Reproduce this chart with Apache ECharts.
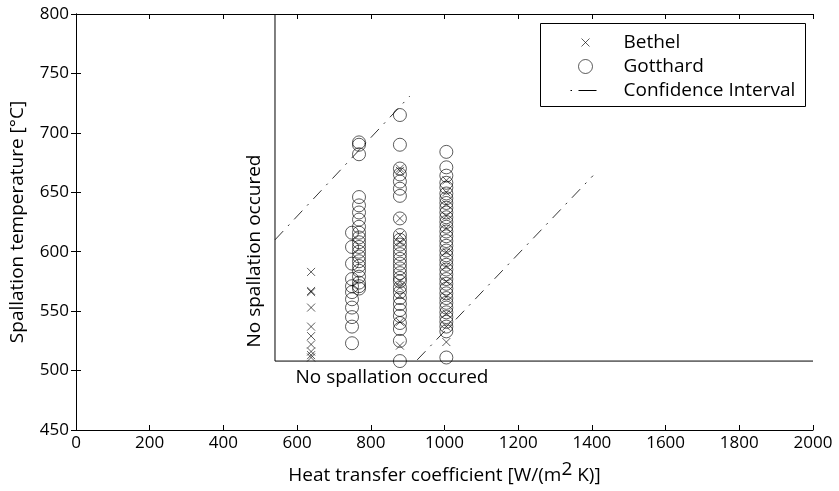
<!DOCTYPE html>
<html>
<head>
<meta charset="utf-8">
<script src="https://cdn.jsdelivr.net/npm/echarts@6/dist/echarts.min.js"></script>
<style>
  html, body { margin: 0; padding: 0; background: #fff; }
  #chart { width: 839px; height: 491px; }
</style>
</head>
<body>
<div id="chart"></div>
<script>
// Axis ranges and ticks
const xTicks = [0, 200, 400, 600, 800, 1000, 1200, 1400, 1600, 1800, 2000];
const yTicks = [450, 500, 550, 600, 650, 700, 750, 800];

// Heat transfer coefficients of the test groups [W/(m^2 K)]
const bethelXs = [638, 879, 1005];
const gotthardXs = [749, 768, 879, 1005];

// Spallation temperatures [°C], Bethel tests
const bethel638 = [583, 567, 566, 553, 537, 529, 522, 516, 513, 511];
const bethel879 = [670, 668, 628, 614, 608, 575, 570, 563, 541, 521];
const bethel1005 = [660, 650, 640, 630, 620, 600, 588, 575, 562, 548, 537, 524];

// Spallation temperatures [°C], Gotthard tests
const gotthard749 = [616, 604, 590, 577, 571, 566, 560, 553, 545, 537, 523];
const gotthard768 = [692, 690, 682, 646, 639, 633, 627, 621, 616, 612, 608, 604, 600, 596, 592, 588, 584, 579, 574, 571, 569];
const gotthard879 = [715, 690, 670, 665, 659, 653, 647, 628, 614, 610, 606, 602, 598, 594, 590, 586, 582, 578, 575, 570, 566, 561, 556, 551, 546, 540, 535, 525, 508];
const gotthard1005 = [684, 671, 664, 658, 654, 649, 645, 641, 637, 633, 629, 625, 621, 617, 613, 609, 605, 601, 597, 593, 589, 585, 581, 577, 573, 569, 565, 561, 557, 553, 549, 545, 541, 537, 533, 511];

// Confidence interval bounds: [x, y] end points
const ciUpperX = [540, 906];
const ciUpperY = [610, 731];
const ciLowerX = [926, 1403];
const ciLowerY = [509, 664];

// Region without spallation: lower-left corner of the valid area
const limitX = 540;
const limitY = 508;

const FONT = '"Open Sans", "Noto Sans", sans-serif';
const TEXT_SIZE = 19;
const TICK_SIZE = 17;

function pairs(x, ys) { return ys.map(y => [x, y]); }

const bethelData = [].concat(
  pairs(bethelXs[0], bethel638),
  pairs(bethelXs[1], bethel879),
  pairs(bethelXs[2], bethel1005)
);
const gotthardData = [].concat(
  pairs(gotthardXs[0], gotthard749),
  pairs(gotthardXs[1], gotthard768),
  pairs(gotthardXs[2], gotthard879),
  pairs(gotthardXs[3], gotthard1005)
);

const xMin = xTicks[0], xMax = xTicks[xTicks.length - 1];
const yMin = yTicks[0], yMax = yTicks[yTicks.length - 1];

const chart = echarts.init(document.getElementById('chart'), null, { renderer: 'canvas' });

const tickStyle = { show: true, inside: true, length: 5, lineStyle: { color: '#000', width: 1 } };
const axisLineStyle = { show: true, lineStyle: { color: '#000', width: 1 } };
const labelStyle = { color: '#000', fontFamily: FONT, fontSize: TICK_SIZE, formatter: v => String(v) };

const ciStyle = { color: '#000', width: 0.8, type: [12, 7, 2, 7] };
const markerStyle = { color: 'rgba(0,0,0,0)', borderColor: '#000', borderWidth: 0.8 };

// Legend icons; the leading moveTo commands fix the icon's bounding box
const crossIcon = 'path://M0,0M30,14M11,3L19,11M19,3L11,11';
const dashDotIcon = 'path://M0,0M30,14M0,7L1.5,7M8,7L26,7';

chart.setOption({
  animation: false,
  backgroundColor: '#fff',
  grid: { left: 76, right: 26, top: 14, bottom: 61, containLabel: false, outerBoundsMode: 'none' },
  xAxis: [{
    type: 'value', min: xMin, max: xMax, interval: 200,
    axisLine: axisLineStyle, axisTick: tickStyle, splitLine: { show: false },
    axisLabel: Object.assign({ margin: 5 }, labelStyle),
    name: 'Heat transfer coefficient [W/(m{sup|2} K)]',
    nameLocation: 'middle', nameGap: 30,
    nameTextStyle: {
      color: '#000', fontFamily: FONT, fontSize: TEXT_SIZE,
      rich: { sup: { fontFamily: FONT, fontSize: TEXT_SIZE, verticalAlign: 'bottom', padding: [0, 0, 13, 0], color: '#000' } }
    }
  }, {
    type: 'value', position: 'top', min: xMin, max: xMax, interval: 200,
    axisLine: axisLineStyle, axisTick: tickStyle, axisLabel: { show: false }, splitLine: { show: false }
  }],
  yAxis: [{
    type: 'value', min: yMin, max: yMax, interval: 50,
    axisLine: axisLineStyle, axisTick: tickStyle, splitLine: { show: false },
    axisLabel: Object.assign({ margin: 7 }, labelStyle),
    name: 'Spallation temperature [°C]',
    nameLocation: 'middle', nameGap: 49,
    nameTextStyle: { color: '#000', fontFamily: FONT, fontSize: TEXT_SIZE }
  }, {
    type: 'value', position: 'right', min: yMin, max: yMax, interval: 50,
    axisLine: axisLineStyle, axisTick: tickStyle, axisLabel: { show: false }, splitLine: { show: false }
  }],
  legend: {
    orient: 'vertical', left: 570, top: 33, itemGap: 5, itemWidth: 30, itemHeight: 14,
    padding: 0,
    textStyle: { color: '#000', fontFamily: FONT, fontSize: TEXT_SIZE, lineHeight: 19, padding: [0, 0, 0, 18] },
    data: [
      { name: 'Bethel', icon: crossIcon, itemStyle: { color: 'rgba(0,0,0,0)', borderColor: '#000', borderWidth: 0.8 } },
      { name: 'Gotthard', icon: 'circle', itemStyle: { color: 'rgba(0,0,0,0)', borderColor: '#000', borderWidth: 0.8 } },
      { name: 'Confidence Interval', icon: dashDotIcon, itemStyle: { color: 'rgba(0,0,0,0)', borderColor: '#000', borderWidth: 1 } }
    ]
  },
  series: [
    {
      name: 'Gotthard', type: 'scatter', data: gotthardData,
      symbol: 'circle', symbolSize: 13,
      itemStyle: markerStyle, emphasis: { disabled: true }, z: 3
    },
    {
      name: 'Bethel', type: 'scatter', data: bethelData,
      symbol: 'path://M0,0L10,10M10,0L0,10', symbolSize: 8,
      itemStyle: markerStyle, emphasis: { disabled: true }, z: 4
    },
    {
      name: 'Confidence Interval', type: 'line', symbol: 'none',
      data: [[ciUpperX[0], ciUpperY[0]], [ciUpperX[1], ciUpperY[1]]],
      lineStyle: ciStyle, itemStyle: { color: '#000' }, z: 2
    },
    {
      name: 'Confidence Interval', type: 'line', symbol: 'none',
      data: [[ciLowerX[0], ciLowerY[0]], [ciLowerX[1], ciLowerY[1]]],
      lineStyle: ciStyle, itemStyle: { color: '#000' }, z: 2
    },
    {
      name: 'limit', type: 'line', symbol: 'none', silent: true,
      data: [[limitX, yMax], [limitX, limitY], [xMax, limitY]],
      lineStyle: { color: '#000', width: 1 }, z: 1
    }
  ],
  graphic: [
    {
      type: 'rect', left: 540, top: 23, z: 0,
      shape: { width: 265, height: 83 },
      style: { fill: '#fff', stroke: '#000', lineWidth: 1 }
    },
    {
      type: 'text', x: 255, y: 251, rotation: Math.PI / 2,
      style: { text: 'No spallation occured', fill: '#000', font: TEXT_SIZE + 'px ' + FONT, align: 'center', verticalAlign: 'middle' }
    },
    {
      type: 'text', x: 392, y: 378,
      style: { text: 'No spallation occured', fill: '#000', font: TEXT_SIZE + 'px ' + FONT, align: 'center', verticalAlign: 'middle' }
    }
  ]
});
</script>
</body>
</html>
